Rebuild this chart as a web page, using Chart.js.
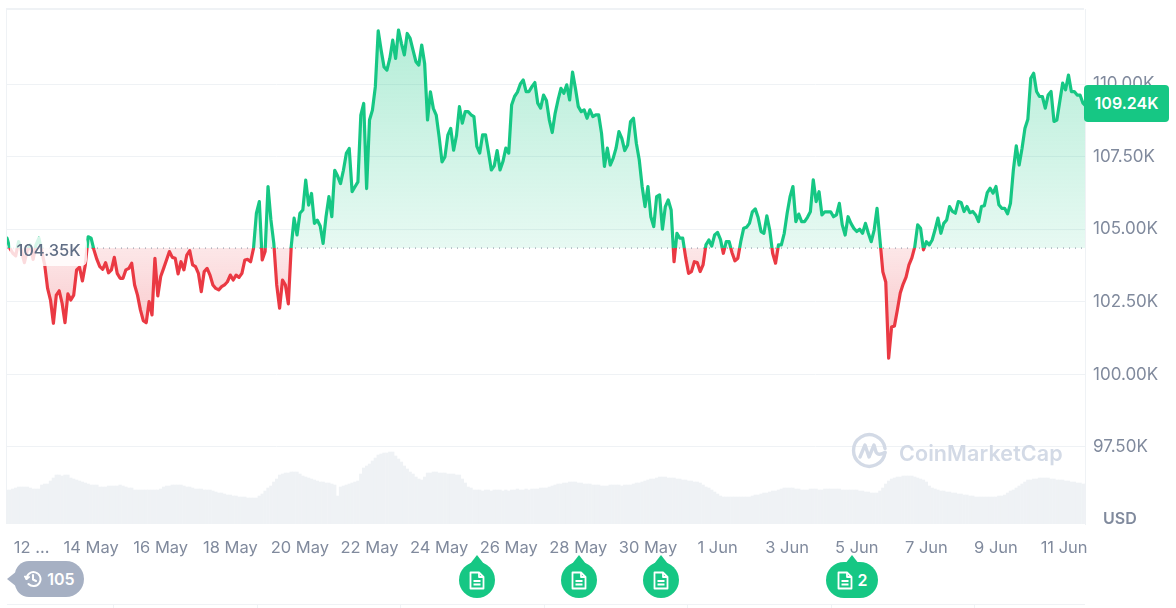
<!DOCTYPE html>
<html lang="en">
<head>
  <meta charset="UTF-8">
  <title>Bitcoin price chart</title>
  <script src="https://cdn.jsdelivr.net/npm/chart.js"></script>
  <style>
    html, body { margin: 0; padding: 0; background: #fff; overflow: hidden; }
    body { width: 1176px; height: 608px; position: relative; font-family: Inter, Arial, sans-serif; }
    #priceChart { position: absolute; left: 0; top: 0; }
    .abs { position: absolute; }
    #frame { left: 6px; top: 8px; width: 1078px; height: 516px; border-top: 2px solid #eff2f5; border-left: 1px solid #eff2f5; box-sizing: border-box; }
    #baseLabel { left: 10px; top: 237px; width: 77px; height: 29px; line-height: 27px; text-align: center; border-radius: 6px; background: rgba(255,255,255,.82); color: #616e85; font-size: 16.5px; font-weight: 500; }
    #lastPrice { left: 1084px; top: 85px; width: 85px; height: 37px; line-height: 37px; text-align: center; border-radius: 4px; background: #16c784; color: #fff; font-size: 16px; font-weight: 600; }
    #usd { left: 1103px; top: 508px; color: #808a9d; font-size: 16px; font-weight: 600; }
    #wmText { left: 899px; top: 440px; color: #d3dae6; font-size: 21.5px; font-weight: 600; letter-spacing: .1px; }
    .pill { color: #fff; font-size: 16px; font-weight: 600; display: flex; align-items: center; justify-content: center; gap: 5px; }
    #history { left: 15px; top: 561px; width: 69px; height: 36px; background: #a6b0c3; border-radius: 0 18px 18px 18px; border-top-left-radius: 14px; border-bottom-left-radius: 14px; }
    #historyTip { left: 7px; top: 571px; width: 0; height: 0; border-top: 8px solid transparent; border-bottom: 8px solid transparent; border-right: 10px solid #a6b0c3; }
    .news { top: 562px; width: 36px; height: 36px; background: #16c784; border-radius: 18px; }
    .tip { top: 555px; width: 0; height: 0; border-left: 7px solid transparent; border-right: 7px solid transparent; border-bottom: 9px solid #16c784; }
    #rangeLine { left: 7px; top: 604px; width: 1078px; height: 4px; border-top: 1px solid #eff2f5; }
    .rangeTick { top: 604px; width: 1px; height: 4px; background: #eff2f5; }
  </style>
</head>
<body>
  <canvas id="priceChart" width="1176" height="608"></canvas>
  <div class="abs" id="frame"></div>
  <div class="abs" id="baseLabel">104.35K</div>
  <div class="abs" id="lastPrice">109.24K</div>
  <div class="abs" id="usd">USD</div>

  <svg class="abs" style="left:851px;top:432px" width="37" height="37" viewBox="0 0 37 37" fill="none" stroke="#d3dae6" stroke-width="3.4" stroke-linecap="round" stroke-linejoin="round">
    <path d="M34 20.5 A15.8 15.8 0 1 1 34 16.5"/>
    <path d="M9 25 L14 13 L18 25 L23 13 L25 20 Q27 24 34 20.5"/>
  </svg>
  <div class="abs" id="wmText">CoinMarketCap</div>

  <div class="abs" id="historyTip"></div>
  <div class="abs pill" id="history">
    <svg width="18" height="18" viewBox="0 0 18 18" fill="none" stroke="#fff" stroke-width="2" stroke-linecap="round" stroke-linejoin="round"><path d="M2.5 9 A7 7 0 1 1 4.5 14"/><path d="M9 5 V9.5 L12 11"/><path d="M1 6.5 L2.5 9 L5 7"/></svg>
    <span>105</span>
  </div>

  <div class="abs tip" style="left:470px"></div>
  <div class="abs pill news" style="left:459px"><svg width="16" height="19" viewBox="0 0 16 19" fill="none" stroke="#fff" stroke-width="1.8" stroke-linejoin="round"><path d="M1.5 1.5 H10 L14.5 6 V17.5 H1.5 Z"/><path d="M10 1.5 V6 H14.5"/><path d="M4.5 10 H11.5 M4.5 13.5 H11.5"/></svg></div>
  <div class="abs tip" style="left:572px"></div>
  <div class="abs pill news" style="left:561px"><svg width="16" height="19" viewBox="0 0 16 19" fill="none" stroke="#fff" stroke-width="1.8" stroke-linejoin="round"><path d="M1.5 1.5 H10 L14.5 6 V17.5 H1.5 Z"/><path d="M10 1.5 V6 H14.5"/><path d="M4.5 10 H11.5 M4.5 13.5 H11.5"/></svg></div>
  <div class="abs tip" style="left:654px"></div>
  <div class="abs pill news" style="left:643px"><svg width="16" height="19" viewBox="0 0 16 19" fill="none" stroke="#fff" stroke-width="1.8" stroke-linejoin="round"><path d="M1.5 1.5 H10 L14.5 6 V17.5 H1.5 Z"/><path d="M10 1.5 V6 H14.5"/><path d="M4.5 10 H11.5 M4.5 13.5 H11.5"/></svg></div>
  <div class="abs tip" style="left:845px"></div>
  <div class="abs pill news" style="left:826px;width:52px"><svg width="16" height="19" viewBox="0 0 16 19" fill="none" stroke="#fff" stroke-width="1.8" stroke-linejoin="round"><path d="M1.5 1.5 H10 L14.5 6 V17.5 H1.5 Z"/><path d="M10 1.5 V6 H14.5"/><path d="M4.5 10 H11.5 M4.5 13.5 H11.5"/></svg><span>2</span></div>

  <div class="abs" id="rangeLine"></div>
  <div class="abs rangeTick" style="left:113px"></div>
  <div class="abs rangeTick" style="left:257px"></div>
  <div class="abs rangeTick" style="left:400px"></div>
  <div class="abs rangeTick" style="left:544px"></div>
  <div class="abs rangeTick" style="left:687px"></div>
  <div class="abs rangeTick" style="left:831px"></div>
  <div class="abs rangeTick" style="left:974px"></div>

  <script>
    // prices in thousands of USD, one reading every two hours
    const prices = [
      104.69,104.34,104.17,104.08,104.57,104.23,103.85,104.28,104.46,103.96,104.46,104.69,104.23,103.77,102.96,102.56,101.76,102.73,102.88,102.45,
      101.78,102.77,102.56,102.73,103.60,103.69,103.22,103.77,104.74,104.69,104.28,103.96,103.71,103.62,103.85,103.50,103.60,104.03,103.48,103.31,
      103.31,103.60,103.65,103.83,103.08,102.73,102.22,101.85,101.78,102.51,102.05,104.00,102.70,103.37,103.65,103.94,104.23,104.03,104.00,103.46,
      103.88,103.60,104.11,104.26,103.77,103.71,103.48,102.85,103.54,103.65,103.42,103.08,102.96,102.91,103.02,103.08,103.19,103.42,103.25,103.42,
      103.34,103.48,103.94,103.96,103.88,104.34,105.55,105.95,103.94,104.23,106.47,105.32,104.51,103.08,102.28,103.25,103.08,102.43,104.40,105.38,
      104.80,105.55,105.66,106.69,105.83,106.23,105.20,105.31,105.11,104.51,105.43,106.12,105.43,107.03,106.83,106.57,107.03,107.61,107.78,106.29,
      106.46,106.63,108.93,109.33,106.40,108.76,109.10,109.90,111.83,111.17,110.59,110.48,110.88,111.51,110.88,111.86,111.40,111.00,111.74,111.57,
      111.17,110.77,110.65,111.34,110.71,108.76,109.73,109.16,108.93,108.18,107.32,107.49,108.24,108.47,107.72,108.24,109.22,108.65,109.05,109.05,
      108.94,108.88,107.85,107.62,108.25,108.25,107.67,107.04,107.18,107.71,107.04,107.33,107.79,107.62,109.28,109.57,109.72,110.00,110.14,109.74,
      109.74,109.91,110.05,109.34,109.17,109.62,109.43,108.76,108.33,108.99,109.45,109.85,109.68,109.97,109.45,110.41,109.85,109.22,109.05,109.11,
      108.82,109.11,108.88,108.94,108.94,108.30,107.16,107.79,107.21,107.44,107.79,108.36,108.13,107.71,107.90,108.71,108.82,107.96,107.39,106.47,
      105.78,106.47,105.43,105.09,106.12,106.18,105.00,105.78,106.01,105.66,103.88,104.86,104.69,104.69,104.03,103.48,103.54,103.88,103.85,103.54,
      103.77,104.46,104.63,104.42,104.80,104.89,104.65,104.17,104.57,104.57,104.19,103.91,104.00,104.57,105.03,105.07,105.20,105.60,105.70,105.40,
      104.92,104.86,105.46,104.97,104.17,103.83,104.46,104.46,104.86,105.55,106.12,106.47,105.26,105.52,105.26,105.26,105.41,105.60,106.70,105.95,
      106.29,105.49,105.60,105.60,105.60,105.43,105.49,105.89,105.15,104.80,105.43,105.20,105.03,104.92,105.00,104.86,105.20,104.86,104.57,104.97,
      105.72,104.63,103.53,103.18,100.56,101.63,101.67,102.22,102.80,103.11,103.35,103.77,104.01,104.39,105.15,105.03,104.29,104.57,104.46,104.63,
      104.98,105.38,104.86,105.20,105.32,105.78,105.61,105.55,105.95,105.92,105.61,105.78,105.57,105.61,105.49,105.26,105.78,105.81,106.26,106.41,
      106.24,106.47,105.84,105.72,105.72,105.53,105.89,107.04,107.87,107.21,107.79,108.48,108.79,110.20,110.37,109.74,109.57,109.57,109.17,109.62,
      109.74,108.71,108.76,109.40,110.03,109.80,110.31,109.74,109.74,109.62,109.62,109.34,109.24
    ];
    // volume in billions of USD, same readings
    const volumes = [
      34,34,35,36,37,37,37,37,36,35,35,35,39,40,40,43,46,49,49,48,
      49,49,46,45,44,43,42,41,40,39,39,39,37,37,37,38,38,38,38,39,
      38,37,36,36,34,34,34,34,34,34,34,34,34,35,37,38,38,39,39,39,
      39,38,37,37,36,35,35,35,34,34,34,33,32,31,31,30,29,29,28,28,
      27,27,27,26,26,26,26,28,30,33,36,38,42,45,49,50,51,51,52,52,
      52,50,48,47,46,45,44,43,42,42,41,41,40,39,28,37,38,39,40,41,
      42,43,50,56,58,60,63,66,69,70,71,71,72,72,68,65,62,58,55,52,
      50,47,45,44,47,51,51,52,52,51,51,51,50,50,50,49,49,45,41,37,
      36,34,34,34,33,34,34,33,34,34,34,33,34,33,34,34,35,34,34,35,
      34,35,35,35,36,36,36,37,38,39,40,40,41,41,42,42,42,41,41,40,
      40,40,39,39,39,38,38,38,39,39,39,39,38,39,39,39,40,41,41,42,
      43,44,45,45,46,47,47,47,46,46,46,45,45,44,44,43,43,42,42,41,
      39,37,36,34,32,30,28,27,27,27,27,27,27,27,27,27,27,28,29,29,
      30,31,31,32,33,33,34,35,36,36,36,36,35,35,34,34,34,35,35,35,
      34,34,35,35,35,35,35,35,34,34,34,34,34,34,33,33,32,32,31,31,
      31,33,36,40,43,45,46,47,47,48,48,48,48,47,46,45,44,42,38,36,
      35,34,33,33,32,32,31,31,30,30,29,29,28,28,27,27,27,27,27,27,
      27,27,28,28,29,31,33,34,36,38,40,42,44,44,45,45,46,46,46,46,
      45,45,44,44,44,43,43,42,42,41,41,40,40
    ];
    const baseline = 104.35;
    const yTicks = [97.5, 100, 102.5, 105, 107.5, 110];
    // hours from the first reading
    const xTickHours = [17, 58, 106, 154, 202, 250, 298, 346, 394, 442, 490, 538, 586, 634, 682, 729];
    const xTickLabels = ['12 ...', '14 May', '16 May', '18 May', '20 May', '22 May', '24 May', '26 May', '28 May', '30 May', '1 Jun', '3 Jun', '5 Jun', '7 Jun', '9 Jun', '11 Jun'];
    const stepHours = 2;

    const green = '#16c784';
    const red = '#ea3943';

    const linePoints = prices.map((p, i) => ({ x: i * stepHours, y: p }));
    const volPoints = volumes.map((v, i) => ({ x: i * stepHours, y: v }));
    const lastHour = (prices.length - 1) * stepHours;

    const ctx = document.getElementById('priceChart').getContext('2d');
    const chart = new Chart(ctx, {
      data: {
        datasets: [
          {
            type: 'line', data: linePoints, yAxisID: 'y', order: 1,
            borderColor: green, borderWidth: 3.2, pointRadius: 0, tension: 0,
            borderJoinStyle: 'round', borderCapStyle: 'round'
          },
          {
            type: 'line', data: [{ x: 0, y: baseline }, { x: lastHour, y: baseline }], yAxisID: 'y', order: 0,
            borderColor: '#808a9d', borderWidth: 1, borderDash: [1, 5], pointRadius: 0, fill: false
          },
          {
            type: 'bar', data: volPoints, yAxisID: 'yVol', order: 2,
            backgroundColor: '#eff2f5', barThickness: 2.7
          }
        ]
      },
      options: {
        responsive: false,
        animation: false,
        events: [],
        layout: { autoPadding: false, padding: { left: 7, top: 9, right: 0, bottom: 0 } },
        plugins: { legend: { display: false }, tooltip: { enabled: false } },
        scales: {
          x: {
            type: 'linear', min: 0, max: 743.4, offset: false,
            grid: { display: false }, border: { display: false },
            afterBuildTicks: s => { s.ticks = xTickHours.map(v => ({ value: v })); },
            afterFit: s => { s.height = 84; s.paddingLeft = 0; s.paddingRight = 0; },
            ticks: {
              autoSkip: false, maxRotation: 0, padding: 6, color: '#808a9d',
              font: { family: 'Inter', size: 16.5 },
              callback: v => xTickLabels[xTickHours.indexOf(v)]
            }
          },
          y: {
            position: 'right', min: 94.848, max: 112.583,
            grid: { color: '#eff2f5', drawTicks: false },
            border: { display: true, color: '#eff2f5' },
            afterBuildTicks: s => { s.ticks = yTicks.map(v => ({ value: v })); },
            afterFit: s => { s.width = 91; s.paddingTop = 0; s.paddingBottom = 0; },
            ticks: {
              padding: 8, color: '#808a9d',
              font: { family: 'Inter', size: 17 },
              callback: v => v.toFixed(2) + 'K'
            }
          },
          yVol: {
            display: false, min: 0, max: 515
          }
        }
      }
    });

    // colours that switch at the baseline need the laid out scales
    const area = chart.chartArea;
    const yScale = chart.scales.y;
    const yBase = yScale.getPixelForValue(baseline);
    const split = (yBase - area.top) / (area.bottom - area.top);
    const stroke = ctx.createLinearGradient(0, area.top, 0, area.bottom);
    stroke.addColorStop(0, green);
    stroke.addColorStop(split, green);
    stroke.addColorStop(split, red);
    stroke.addColorStop(1, red);
    const aboveFill = ctx.createLinearGradient(0, yScale.getPixelForValue(Math.max(...prices)), 0, yBase);
    aboveFill.addColorStop(0, 'rgba(22,199,132,0.32)');
    aboveFill.addColorStop(1, 'rgba(22,199,132,0.10)');
    const belowFill = ctx.createLinearGradient(0, yBase, 0, yScale.getPixelForValue(Math.min(...prices)));
    belowFill.addColorStop(0, 'rgba(234,57,67,0.12)');
    belowFill.addColorStop(1, 'rgba(234,57,67,0.32)');
    const lineSet = chart.data.datasets[0];
    lineSet.borderColor = stroke;
    lineSet.fill = { target: { value: baseline }, above: aboveFill, below: belowFill };
    chart.update('none');
  </script>
</body>
</html>
